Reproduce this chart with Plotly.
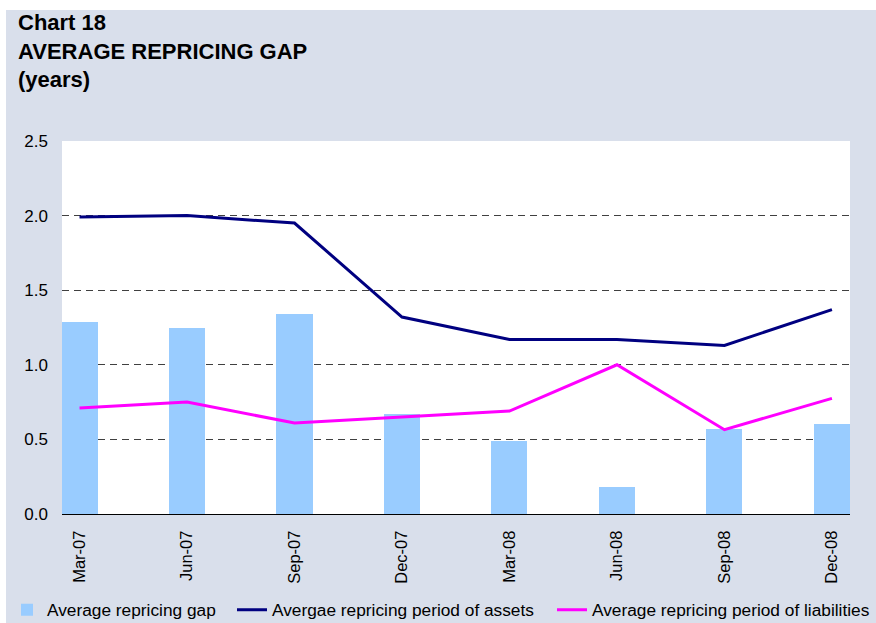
import plotly.graph_objects as go

categories = ["Mar-07", "Jun-07", "Sep-07", "Dec-07", "Mar-08", "Jun-08", "Sep-08", "Dec-08"]
gap = [1.29, 1.25, 1.34, 0.67, 0.49, 0.18, 0.57, 0.60]
assets = [1.99, 2.00, 1.95, 1.32, 1.17, 1.17, 1.13, 1.37]
liabilities = [0.71, 0.75, 0.61, 0.65, 0.69, 1.00, 0.565, 0.775]
y_ticks = [0.0, 0.5, 1.0, 1.5, 2.0, 2.5]

FONT = "Liberation Sans, Arial, sans-serif"
BG = "#D9DFEB"

W, H = 870, 613
L, T, B, R = 56, 131, 109, 0
PLOT_W = 788
GS_W = W - L - R
GS_H = H - T - B

fig = go.Figure()
fig.add_trace(go.Bar(
    x=categories, y=gap, name="Average repricing gap",
    marker=dict(color="#99CCFF", line=dict(width=0)), width=0.335,
    legendwidth=180,
))
fig.add_trace(go.Scatter(
    x=categories, y=assets, name="Avergae repricing period of assets",
    mode="lines", line=dict(color="#000080", width=3),
    legendwidth=275,
))
fig.add_trace(go.Scatter(
    x=categories, y=liabilities, name="Average repricing period of liabilities",
    mode="lines", line=dict(color="#FF00FF", width=3),
    legendwidth=280,
))

fig.update_layout(
    width=W, height=H,
    paper_bgcolor=BG, plot_bgcolor="white",
    margin=dict(l=L, r=R, t=T, b=B, autoexpand=False, pad=0),
    font=dict(family=FONT, size=17, color="black"),
    showlegend=True,
    legend=dict(
        orientation="h", xref="paper", yref="paper",
        x=(1 - L) / GS_W, xanchor="left",
        y=(GS_H - (600 - T)) / GS_H, yanchor="middle",
        bgcolor="rgba(0,0,0,0)", borderwidth=0,
        font=dict(family=FONT, size=17.3),
        traceorder="normal",
    ),
    bargap=0,
    annotations=[dict(
        text="<b>Chart 18<br>AVERAGE REPRICING GAP<br>(years)</b>",
        xref="paper", yref="paper",
        x=(10 - L) / GS_W, xanchor="left",
        y=(GS_H - (-2 - T)) / GS_H, yanchor="top",
        align="left", showarrow=False,
        font=dict(family=FONT, size=22, color="black"),
    )],
)
fig.update_xaxes(
    type="category", range=[-0.163, 7.168], domain=[0, PLOT_W / GS_W],
    tickangle=-90, showgrid=False, showline=True, linecolor="black", linewidth=1,
    ticks="", tickfont=dict(size=16.5), ticklabelstandoff=9, fixedrange=True,
)
fig.update_yaxes(
    range=[0, 2.5], tickvals=y_ticks, ticktext=[f"{v:.1f}" for v in y_ticks],
    showgrid=True, gridcolor="#404040", griddash="7px,5px", gridwidth=1,
    zeroline=False, showline=False, ticks="", tickfont=dict(size=17),
    ticklabelstandoff=13, fixedrange=True,
)

fig.write_html(
    "out.html",
    post_script="document.body.style.margin='10px 0 0 6px';"
                "document.body.style.overflow='hidden';"
                "document.documentElement.style.overflow='hidden';",
)
